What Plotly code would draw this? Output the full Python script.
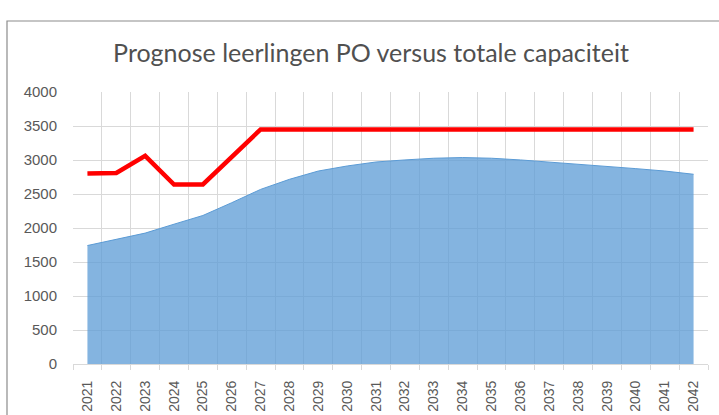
import plotly.graph_objects as go

years = [str(y) for y in range(2021, 2043)]
leerlingen = [1742, 1830, 1925, 2056, 2184, 2372, 2568, 2716, 2838, 2912,
              2971, 3001, 3026, 3036, 3026, 3001, 2971, 2937, 2903, 2873, 2838, 2790]
capaciteit = [2800, 2810, 3060, 2640, 2640, 3045, 3450, 3450, 3450, 3450,
              3450, 3450, 3450, 3450, 3450, 3450, 3450, 3450, 3450, 3450, 3450, 3450]
y_ticks = [0, 500, 1000, 1500, 2000, 2500, 3000, 3500, 4000]

xs = list(range(len(years)))

fig = go.Figure()
fig.add_trace(go.Scatter(
    x=xs, y=leerlingen, mode="lines", fill="tozeroy",
    line=dict(color="rgb(91,155,213)", width=1),
    fillcolor="rgba(91,155,213,0.75)", showlegend=False, hoverinfo="skip"))
fig.add_trace(go.Scatter(
    x=xs, y=capaciteit, mode="lines",
    line=dict(color="#ff0000", width=4.5), showlegend=False))

L, R, T, B = 73, 11, 92, 51
W, H = 719, 415
pw, ph = W - L - R, H - T - B

fig.update_layout(
    width=W, height=H,
    margin=dict(l=L, r=R, t=T, b=B, autoexpand=False),
    paper_bgcolor="white", plot_bgcolor="white",
    title=dict(text="Prognose leerlingen PO versus totale capaciteit",
               x=371 / W, xanchor="center", y=1 - 53 / H, yanchor="middle",
               font=dict(family="Lato, Open Sans, sans-serif", size=25, color="#505050")),
    xaxis=dict(
        range=[-0.5, len(years) - 0.5], tickmode="array", tickvals=xs, ticktext=years,
        tickangle=-90, showgrid=False, zeroline=False, ticks="",
        showline=True, linecolor="#d9d9d9", linewidth=1, ticklabelstandoff=10,
        tickfont=dict(family="Liberation Sans, Arial, sans-serif", size=14, color="#595959"),
        minor=dict(tickmode="array", tickvals=[i - 0.5 for i in range(len(years) + 1)],
                   showgrid=True, gridcolor="#d9d9d9", gridwidth=1,
                   ticks="outside", ticklen=5, tickcolor="#d9d9d9"),
        fixedrange=True),
    yaxis=dict(
        range=[0, 4000], tickmode="array", tickvals=y_ticks,
        showgrid=True, gridcolor="#d9d9d9", gridwidth=1, zeroline=False,
        showline=False, ticks="", ticklabelstandoff=15,
        tickfont=dict(family="Liberation Sans, Arial, sans-serif", size=15, color="#595959"),
        fixedrange=True),
)

# outer chart frame
fig.add_shape(type="rect", xref="paper", yref="paper",
              x0=(7 - L) / pw, x1=1 + 30 / pw, y0=-60 / ph - 0.2, y1=1 + (T - 21) / ph,
              line=dict(color="#8c8c8c", width=1.2), fillcolor="rgba(0,0,0,0)", layer="below")

fig.write_html("out.html", config={"displayModeBar": False},
               post_script="document.body.style.margin='0';document.body.style.overflow='hidden';")
